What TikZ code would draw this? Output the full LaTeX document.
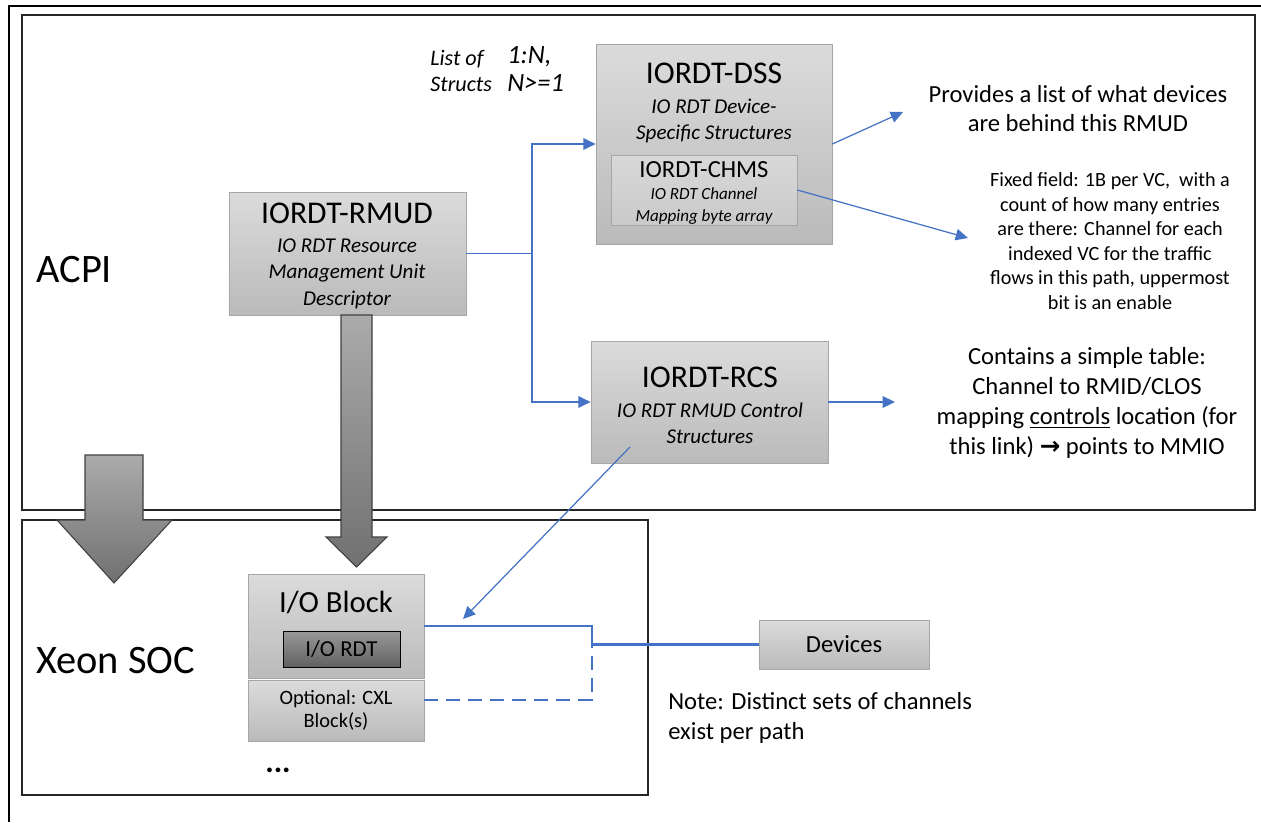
\documentclass[tikz,border=0pt]{standalone}
\usepackage{fontspec}
\setmainfont{Carlito}
\newfontfamily\symfont{DejaVu Sans}
\usetikzlibrary{arrows.meta}
\definecolor{linkblue}{HTML}{4472C4}

\tikzstyle{region}=[draw=black!85, line width=1pt, inner sep=0pt]
\tikzstyle{box}=[draw=black!35, top color=black!14, bottom color=black!27, inner sep=0pt]
\tikzstyle{darkbox}=[draw=black, top color=black!40, bottom color=black!62, inner sep=0pt]
\tikzstyle{bigarrow}=[draw=black!75, line width=0.6pt, top color=black!33, bottom color=black!56]
\tikzstyle{big}=[font=\fontsize{23}{28}\selectfont, inner sep=0pt]
\tikzstyle{title}=[font=\fontsize{18}{22}\selectfont, inner sep=0pt]
\tikzstyle{sub}=[font=\fontsize{12}{15}\selectfont\itshape, align=center, inner sep=0pt]
\tikzstyle{note}=[font=\fontsize{14}{16.5}\selectfont, align=center, inner sep=0pt]
\tikzstyle{small}=[font=\fontsize{11.5}{13.9}\selectfont, align=center, inner sep=0pt]
\tikzstyle{link}=[draw=linkblue, line width=1pt]
\tikzstyle{thinlink}=[draw=linkblue, line width=0.7pt]

\begin{document}
\begin{tikzpicture}[x=0.02cm, y=-0.02cm, >={Triangle[length=7pt,width=6.5pt]}]
\useasboundingbox (0,0) rectangle (1261,822);
\draw[line width=1.4pt] (9,822) -- (9,6) -- (1261,6);

\node (acpi) at (638.5,262.5) [region, minimum width=24.66cm, minimum height=9.9cm] {};
\node (soc)  at (335,657.5)   [region, minimum width=12.52cm, minimum height=5.5cm]  {};
\node (acpilabel) at (36,270) [big, anchor=west] {ACPI};
\node (soclabel)  at (36,661) [big, anchor=west] {Xeon SOC};

\node (dss)      at (714,144)   [box, minimum width=4.72cm, minimum height=4cm] {};
\node (dsstitle) at (714,73)    [title] {IORDT-DSS};
\node (dsssub)   at (714,121)   [sub] {IO RDT Device-\\Specific Structures};
\node (chms)     at (704,190)   [box, top color=black!15, bottom color=black!21, minimum width=3.72cm, minimum height=1.4cm] {};
\node (chmstitle) at (704,170)  [title, font=\fontsize{14}{16}\selectfont] {IORDT-CHMS};
\node (chmssub)  at (704,206)   [sub, font=\fontsize{9.7}{12}\selectfont\itshape] {IO RDT Channel\\Mapping byte array};

\node (rmud)      at (347.5,253.5) [box, minimum width=4.74cm, minimum height=2.46cm] {};
\node (rmudtitle) at (347,213)     [title] {IORDT-RMUD};
\node (rmudsub)   at (347,273.5)   [sub] {IO RDT Resource\\Management Unit\\Descriptor};

\node (rcs)      at (709.5,402) [box, minimum width=4.74cm, minimum height=2.44cm] {};
\node (rcstitle) at (710,377)   [title] {IORDT-RCS};
\node (rcssub)   at (710,423.5) [sub] {IO RDT RMUD Control\\Structures};

\node (iob)      at (336,626)   [box, minimum width=3.52cm, minimum height=2.08cm] {};
\node (iobtitle) at (336,602)   [title, font=\fontsize{17.5}{20}\selectfont] {I/O Block};
\node (iordt)    at (341.5,649) [darkbox, font=\fontsize{13}{15}\selectfont, minimum width=2.34cm, minimum height=0.72cm] {I/O RDT};
\node (cxl)      at (336,710.5) [box, font=\fontsize{11.6}{12.8}\selectfont, align=center, minimum width=3.52cm, minimum height=1.22cm] {Optional: CXL\\Block(s)};
\node (more)     at (278,770)   [font=\fontsize{18}{20}\selectfont\bfseries] {...};
\node (devices)  at (844,644.5) [box, font=\fontsize{14}{16}\selectfont, minimum width=3.4cm, minimum height=0.98cm] {Devices};

\node (liststructs) at (430,71) [sub, align=left, anchor=west, font=\fontsize{12.6}{15.3}\selectfont\itshape] {List of\\Structs};
\node (ratio)       at (507,69) [sub, align=left, anchor=west, font=\fontsize{15}{15.6}\selectfont\itshape] {1:N,\\N>=1};

\node (provides) at (1078,109) [note] {Provides a list of what devices\\are behind this RMUD};
\node (fixed)    at (1110,241) [small] {Fixed field: 1B per VC,~ with a\\count of how many entries\\are there: Channel for each\\indexed VC for the traffic\\flows in this path, uppermost\\bit is an enable};
\node (contains) at (1087,403) [note, font=\fontsize{14}{17}\selectfont] {Contains a simple table:\\Channel to RMID/CLOS\\mapping \underline{controls} location (for\\this link) {\symfont\bfseries →} points to MMIO};
\node (pathnote) at (668,718)  [note, font=\fontsize{14}{17}\selectfont, align=left, anchor=west] {Note: Distinct sets of channels\\exist per path};

\coordinate (split)    at (532,253.5);
\coordinate (provtip)  at (903,112);
\coordinate (fixtip)   at (968,238);
\coordinate (conttip)  at (895,402);
\coordinate (rcsout)   at (630,447);
\coordinate (iobin)    at (463,619);
\coordinate (join)     at (592,644.5);

\draw[link] (rmud.east) -- (split);
\draw[->, link] (split) |- (dss.west);
\draw[->, link] (split) |- (rcs.west);
\draw[->, thinlink] (dss.east) -- (provtip);
\draw[->, thinlink] (chms.east) -- (fixtip);
\draw[->, link] (rcs.east) -- (conttip);
\draw[->, thinlink] (rcsout) -- (iobin);

\draw[link, line width=1.2pt] (iob.east) -| (join) -- (devices.west);
\draw[link, line width=1.2pt, dash pattern=on 8pt off 4.5pt] ([yshift=6.2pt]cxl.east) -| (join) -- (devices.west);

\draw[bigarrow] (341,315) -- (372,315) -- (372,537) -- (387,537) -- (356.5,567) -- (326,537) -- (341,537) -- cycle;
\draw[bigarrow] (85,455) -- (143,455) -- (143,520) -- (172,520) -- (114,583) -- (57,520) -- (85,520) -- cycle;
\end{tikzpicture}
\end{document}
